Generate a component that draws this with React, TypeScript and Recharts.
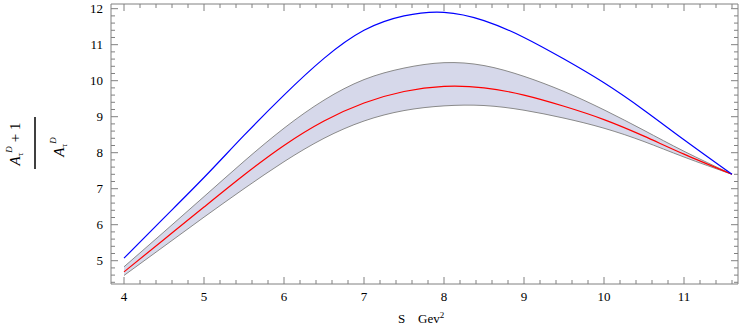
import React from "react";
import { ComposedChart, Line, Area, XAxis, YAxis } from "recharts";

// S values (GeV^2)
const sValues = [4, 4.5, 5, 5.5, 6, 6.5, 7, 7.5, 8, 8.5, 9, 9.5, 10, 10.5, 11, 11.6];
const blueCurve = [5.07, 6.19, 7.31, 8.48, 9.6, 10.62, 11.4, 11.8, 11.9, 11.67, 11.2, 10.6, 9.94, 9.18, 8.36, 7.4];
const bandUpper = [4.83, 5.8, 6.78, 7.76, 8.68, 9.46, 10.03, 10.35, 10.5, 10.42, 10.12, 9.7, 9.19, 8.62, 8.04, 7.4];
const redCurve = [4.69, 5.59, 6.49, 7.38, 8.2, 8.88, 9.38, 9.7, 9.84, 9.8, 9.6, 9.29, 8.92, 8.46, 7.96, 7.4];
const bandLower = [4.59, 5.4, 6.21, 7.0, 7.75, 8.4, 8.88, 9.17, 9.3, 9.31, 9.18, 8.96, 8.68, 8.31, 7.88, 7.4];

const xTickLabels = [4, 5, 6, 7, 8, 9, 10, 11];
const yTickLabels = [5, 6, 7, 8, 9, 10, 11, 12];

const data = sValues.map((s, i) => ({
  s,
  blue: blueCurve[i],
  red: redCurve[i],
  upper: bandUpper[i],
  lower: bandLower[i],
}));

const minorTicks = (from: number, to: number, step: number) => {
  const out: number[] = [];
  for (let v = from; v <= to + 1e-9; v += step) out.push(Math.round(v * 10) / 10);
  return out;
};
const xTicks = minorTicks(4, 11.6, 0.2);
const yTicks = minorTicks(4.4, 12, 0.2);

const frame = "#808080";
const font = "Liberation Serif";
const isMajor = (v: number, labels: number[]) => labels.some((l) => Math.abs(l - v) < 1e-6);
const tickLen = (major: boolean) => (major ? 7 : 4);

const BottomTick = ({ x, y, payload }: any) => {
  const major = isMajor(payload.value, xTickLabels);
  return (
    <g>
      <line x1={x} x2={x} y1={y} y2={y - tickLen(major)} stroke={frame} />
      {major && (
        <text x={x} y={y + 17} textAnchor="middle" fontFamily={font} fontSize={13} fill="#000">
          {payload.value}
        </text>
      )}
    </g>
  );
};

const TopTick = ({ x, y, payload }: any) => {
  const major = isMajor(payload.value, xTickLabels);
  return <line x1={x} x2={x} y1={y} y2={y + tickLen(major)} stroke={frame} />;
};

const LeftTick = ({ x, y, payload }: any) => {
  const major = isMajor(payload.value, yTickLabels);
  return (
    <g>
      <line x1={x} x2={x + tickLen(major)} y1={y} y2={y} stroke={frame} />
      {major && (
        <text x={x - 8} y={y + 4.5} textAnchor="end" fontFamily={font} fontSize={13} fill="#000">
          {payload.value}
        </text>
      )}
    </g>
  );
};

const RightTick = ({ x, y, payload }: any) => {
  const major = isMajor(payload.value, yTickLabels);
  return <line x1={x} x2={x - tickLen(major)} y1={y} y2={y} stroke={frame} />;
};

const YLabel = () => (
  <g fontFamily={font} fill="#000">
    <g transform="translate(20,144) rotate(-90)">
      <text x={0} y={0} textAnchor="middle" fontSize={15}>
        <tspan fontStyle="italic">A</tspan>
        <tspan dy={3} fontSize={9}>τ</tspan>
        <tspan dy={-11} fontSize={9} fontStyle="italic">D</tspan>
        <tspan dy={8} dx={4}>+ 1</tspan>
      </text>
    </g>
    <line x1={35} x2={35} y1={117} y2={169} stroke="#000" strokeWidth={1.5} />
    <g transform="translate(64,147) rotate(-90)">
      <text x={0} y={0} textAnchor="middle" fontSize={15}>
        <tspan fontStyle="italic">A</tspan>
        <tspan dy={3} fontSize={9}>τ</tspan>
        <tspan dy={-11} fontSize={9} fontStyle="italic">D</tspan>
      </text>
    </g>
  </g>
);

const XLabel = () => (
  <g fontFamily={font} fill="#000" fontSize={13}>
    <text x={398} y={323}>S</text>
    <text x={418} y={323}>
      Gev<tspan dy={-5} fontSize={9}>2</tspan>
    </text>
  </g>
);

export default function App() {
  return (
    <div style={{ position: "absolute", left: 0, top: 0 }}>
      <ComposedChart width={747} height={327} data={data} margin={{ top: 0, right: 0, bottom: 0, left: 0 }}>
        <XAxis
          xAxisId="b"
          dataKey="s"
          type="number"
          domain={[3.8375, 11.675]}
          ticks={xTicks}
          interval={0}
          tick={<BottomTick />}
          tickLine={false}
          tickSize={0}
          tickMargin={0}
          height={43}
          stroke={frame}
          allowDataOverflow
          label={<XLabel />}
        />
        <XAxis
          xAxisId="t"
          orientation="top"
          dataKey="s"
          type="number"
          domain={[3.8375, 11.675]}
          ticks={xTicks}
          interval={0}
          tick={<TopTick />}
          tickLine={false}
          tickSize={0}
          tickMargin={0}
          height={4}
          stroke={frame}
          allowDataOverflow
        />
        <YAxis
          yAxisId="l"
          type="number"
          domain={[4.353, 12.13]}
          ticks={yTicks}
          interval={0}
          tick={<LeftTick />}
          tickLine={false}
          tickSize={0}
          tickMargin={0}
          width={111}
          stroke={frame}
          allowDataOverflow
          label={<YLabel />}
        />
        <YAxis
          yAxisId="r"
          orientation="right"
          type="number"
          domain={[4.353, 12.13]}
          ticks={yTicks}
          interval={0}
          tick={<RightTick />}
          tickLine={false}
          tickSize={0}
          tickMargin={0}
          width={9}
          stroke={frame}
          allowDataOverflow
        />
        <Area
          xAxisId="b"
          yAxisId="l"
          type="natural"
          dataKey={(d: any) => [d.lower, d.upper]}
          stroke="none"
          fill="#d6d8ea"
          fillOpacity={1}
          isAnimationActive={false}
        />
        <Line xAxisId="b" yAxisId="l" type="natural" dataKey="upper" stroke="#8a8a8a" strokeWidth={1} dot={false} isAnimationActive={false} />
        <Line xAxisId="b" yAxisId="l" type="natural" dataKey="lower" stroke="#8a8a8a" strokeWidth={1} dot={false} isAnimationActive={false} />
        <Line xAxisId="b" yAxisId="l" type="natural" dataKey="red" stroke="#ff0000" strokeWidth={1.2} dot={false} isAnimationActive={false} />
        <Line xAxisId="b" yAxisId="l" type="natural" dataKey="blue" stroke="#0000ff" strokeWidth={1.2} dot={false} isAnimationActive={false} />
      </ComposedChart>
    </div>
  );
}
